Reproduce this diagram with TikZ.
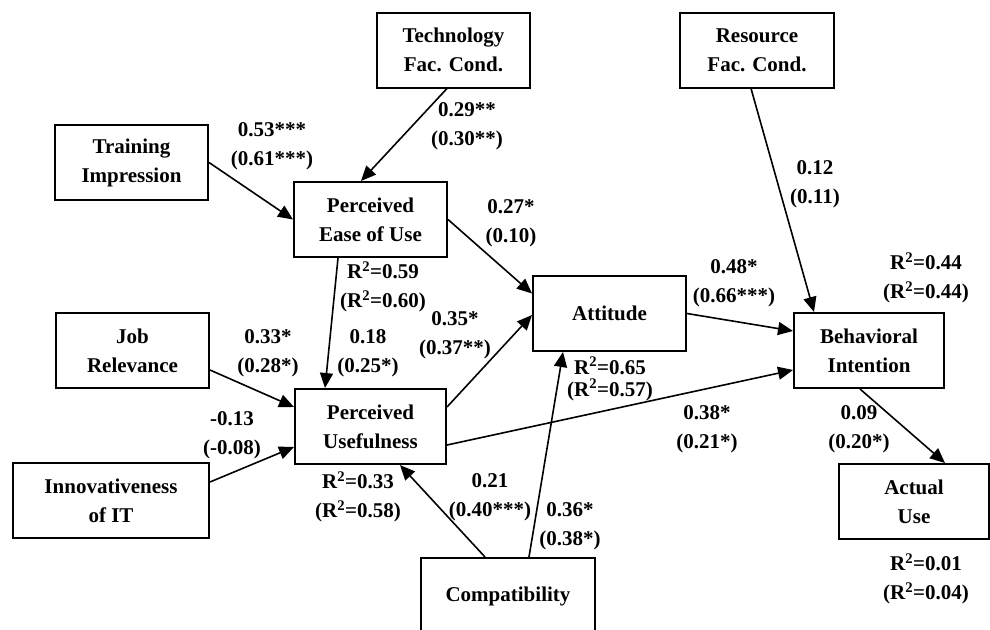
\documentclass[tikz,border=0pt]{standalone}
\usepackage{fontspec}
\setmainfont{Liberation Serif}
\usetikzlibrary{arrows.meta}
\newcommand{\rsq}[1]{R\textsuperscript{2}=#1}

\begin{document}
\begin{tikzpicture}[x=1pt,y=-1pt,>={Triangle[length=15pt,width=13pt]},line width=1.6pt,
  var/.style={draw,line width=2pt,minimum width=153pt,minimum height=75pt,align=center,inner sep=2pt,font=\bfseries\fontsize{21}{29}\selectfont},
  coef/.style={align=center,inner sep=0pt,font=\bfseries\fontsize{21}{29}\selectfont}]
\useasboundingbox (0,0) rectangle (990,629);

\node[var] (tech) at (453.5,50) {Technology\\Fac. Cond.};
\node[var,minimum width=154pt] (res) at (757,50) {Resource\\Fac. Cond.};
\node[var] (train) at (131.5,162.5) {Training\\Impression};
\node[var] (peou) at (370.5,219.5) {Perceived\\Ease of Use};
\node[var] (att) at (609.5,313.5) {Attitude};
\node[var,minimum width=150pt] (bi) at (869,350.5) {Behavioral\\Intention};
\node[var] (job) at (132.5,350.5) {Job\\Relevance};
\node[var,minimum width=151pt] (pu) at (370.5,426.5) {Perceived\\Usefulness};
\node[var,minimum width=196pt] (innov) at (111,500.5) {Innovativeness\\of IT};
\node[var,minimum width=174pt,minimum height=76pt] (compat) at (508,596) {Compatibility};
\node[var,minimum width=150pt] (use) at (914,501.5) {Actual\\Use};

\node[coef] (c_train) at (272,146) {0.53***\\(0.61***)};
\node[coef] (c_tech) at (467,126) {0.29**\\(0.30**)};
\node[coef] (c_peou_att) at (511,223) {0.27*\\(0.10)};
\node[coef] (r_peou) at (383,287) {\rsq{0.59}\\(\rsq{0.60})};
\node[coef] (c_pu_att) at (455,335) {0.35*\\(0.37**)};
\node[coef] (c_peou_pu) at (368,353) {0.18\\(0.25*)};
\node[coef] (c_job) at (268,353) {0.33*\\(0.28*)};
\node[coef] (c_innov) at (232,435) {-0.13\\(-0.08)};
\node[coef] (r_pu) at (358,497) {\rsq{0.33}\\(\rsq{0.58})};
\node[coef] (c_compat_pu) at (490,497) {0.21\\(0.40***)};
\node[coef] (c_compat_att) at (570,526) {0.36*\\(0.38*)};
\node[coef,font=\bfseries\fontsize{21}{22}\selectfont] (r_att) at (610,379) {\rsq{0.65}\\(\rsq{0.57})};
\node[coef] (c_att) at (734,283) {0.48*\\(0.66***)};
\node[coef] (c_res) at (815,184) {0.12\\(0.11)};
\node[coef] (r_bi) at (926,278) {\rsq{0.44}\\(\rsq{0.44})};
\node[coef] (c_pu_bi) at (707,429) {0.38*\\(0.21*)};
\node[coef] (c_bi) at (859,429) {0.09\\(0.20*)};
\node[coef] (r_use) at (926,579) {\rsq{0.01}\\(\rsq{0.04})};

\path[->] (train.east) edge (peou.west)
([xshift=-6.5pt]tech.south) edge ([xshift=-9.5pt]peou.north)
(peou.east) edge ([yshift=20pt]att.west)
([xshift=-32.5pt]peou.south) edge ([xshift=-45.5pt]pu.north)
([yshift=-19.5pt]job.east) edge ([yshift=19.5pt]pu.west)
([yshift=18.5pt]innov.east) edge ([yshift=-20.5pt]pu.west)
([yshift=19.5pt]pu.east) edge ([yshift=-1.5pt]att.west)
([yshift=-18.5pt]pu.east) edge ([yshift=-19.5pt]bi.west)
(att.east) edge ([yshift=19.5pt]bi.west)
([xshift=-6pt]res.south) edge ([xshift=-55pt]bi.north)
([xshift=-9pt]bi.south) edge ([xshift=31pt]use.north)
([xshift=-23pt]compat.north) edge ([xshift=29.5pt]pu.south)
([xshift=21pt]compat.north) edge ([xshift=-46.5pt]att.south);
\end{tikzpicture}
\end{document}
